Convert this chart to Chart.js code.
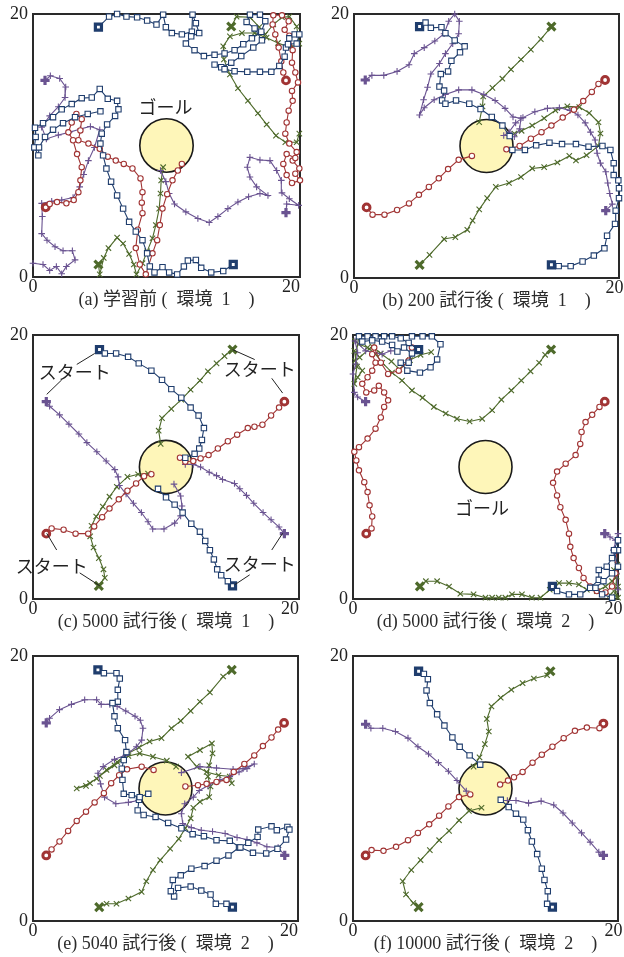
<!DOCTYPE html>
<html><head><meta charset="utf-8">
<script src="https://cdn.jsdelivr.net/npm/chart.js@4.4.1/dist/chart.umd.min.js"></script>
<style>
html,body{margin:0;padding:0;background:#fff;}
body{width:624px;height:957px;position:relative;overflow:hidden;}
.pan{position:absolute;}
</style></head>
<body>
<script>
// ---------- axis ticks, goal, captions ----------
const AXIS_TICKS = [0, 20];
const GOAL_CENTER = [10, 10];
const GOAL_RADIUS = 2;
const CAPTIONS = [
  "(a) 学習前 (  環境  1\u3000)",
  "(b) 200 試行後 (  環境  1\u3000)",
  "(c) 5000 試行後 (  環境  1\u3000)",
  "(d) 5000 試行後 (  環境  2\u3000)",
  "(e) 5040 試行後 (  環境  2\u3000)",
  "(f) 10000 試行後 (  環境  2\u3000)"
];

// ---------- (a) 学習前 ----------
const a_blue_1 = [[4.9,19.0],[5.7,19.8],[6.3,20.0],[7.0,19.8],[7.8,19.75],[8.55,19.5],[9.25,19.2],[9.75,19.95],[9.95,19.0],[10.4,18.55],[11.15,18.45],[11.9,18.65],[11.95,19.95],[12.2,19.3],[12.45,18.55],[11.85,18.3],[11.45,17.75],[12.1,17.25],[12.8,16.8],[13.6,16.9],[14.35,17.0],[15.1,17.25],[15.75,17.7],[16.4,18.15],[17.1,18.65],[17.4,19.45],[17.0,19.95],[16.25,19.95],[16.0,19.4],[16.6,18.9],[17.15,18.0],[16.5,17.45],[15.6,16.8],[14.85,16.3],[14.1,15.95],[13.6,16.15],[14.35,15.8],[15.1,15.65],[16.05,15.6],[17.0,15.6],[17.85,15.6],[18.45,16.05],[18.85,16.75],[18.95,17.45],[19.2,18.15],[19.6,18.45],[19.95,18.45],[19.75,17.75],[19.1,17.7]];
const a_blue_2 = [[15.0,0.95],[14.25,0.45],[13.35,0.35],[12.6,0.7],[12.2,1.3],[11.6,1.25],[11.3,0.8],[10.8,0.2],[10.2,0.35],[9.7,0.75],[9.1,0.35],[8.75,0.8],[8.55,1.8],[8.2,2.8],[7.7,3.45],[7.2,4.2],[6.75,5.2],[6.3,6.2],[5.85,7.25],[5.5,8.25],[5.25,9.25],[5.05,10.15],[5.15,10.9],[5.55,11.6],[6.15,12.25],[6.4,12.75],[6.3,13.4],[5.6,13.55],[5.0,14.3],[4.4,13.65],[3.65,13.6],[2.9,13.15],[2.15,12.75],[1.5,12.15],[0.75,11.7],[0.15,11.35],[0.2,10.65],[0.1,9.85],[0.4,9.25],[0.45,9.85],[0.9,10.65],[1.5,11.2],[2.25,11.7],[3.15,12.15],[4.1,12.4],[5.05,12.6]];
const a_red_1 = [[18.95,14.95],[18.75,15.55],[18.6,16.4],[18.4,17.45],[18.15,18.45],[17.95,19.2],[18.0,19.9],[18.65,19.9],[19.15,19.45],[18.85,18.8],[19.2,18.35],[19.45,17.25],[19.4,16.3],[19.65,15.55],[19.85,14.8],[19.4,14.15],[19.45,13.4],[19.15,12.65],[19.0,11.75],[18.9,10.9],[19.2,10.15],[19.75,9.5],[19.45,8.85],[19.95,8.25],[19.65,7.85],[20.0,7.35],[19.4,7.15],[19.0,7.75],[18.75,8.6],[19.0,9.35],[19.65,9.05]];
const a_red_2 = [[0.95,5.3],[1.25,5.55],[1.8,5.7],[2.5,5.6],[3.05,5.85],[3.4,6.45],[3.55,7.35],[3.65,8.35],[3.3,9.35],[3.0,10.4],[2.65,11.0],[2.9,11.75],[3.25,12.4],[3.65,12.0],[3.55,11.15],[3.4,10.4],[4.15,10.15],[5.0,9.75],[5.6,9.15],[6.2,8.85],[6.8,8.6],[7.45,8.25],[8.05,7.5],[8.2,6.45],[8.15,5.65],[8.2,4.85],[7.85,3.6],[7.7,2.2],[8.0,0.95],[8.45,0.2],[8.95,1.8],[9.3,2.8],[9.5,3.95],[9.7,5.2],[10.05,6.3],[10.45,7.35],[10.85,8.1],[11.15,8.6]];
const a_purple_1 = [[0.9,14.95],[1.3,15.3],[2.0,15.1],[2.45,14.45],[2.4,13.65],[1.9,12.95],[1.25,12.25],[0.65,11.4],[1.0,10.5],[1.9,10.8],[2.7,11.0],[3.55,11.25],[4.3,11.45],[5.0,11.2],[4.6,9.85],[4.15,8.85],[3.8,7.8],[3.5,6.85],[3.0,6.05],[2.15,5.85],[1.4,5.75],[0.65,5.6],[0.7,4.6],[0.65,3.3],[1.05,2.8],[1.65,2.3],[2.25,2.0],[2.95,2.0],[3.15,1.3],[2.5,0.8],[2.15,0.25],[1.75,0.8],[1.25,0.5],[0.75,0.95],[0.0,1.05]];
const a_purple_2 = [[18.95,4.9],[19.0,5.55],[19.9,5.45],[19.2,5.95],[18.65,6.4],[18.6,7.35],[18.25,8.1],[17.75,8.85],[17.0,8.9],[16.25,9.1],[16.05,8.35],[16.25,7.6],[16.75,6.85],[17.6,6.2],[17.0,6.35],[16.15,6.1],[15.35,5.7],[14.6,5.2],[13.85,4.6],[13.2,4.15],[12.35,4.45],[11.45,4.95],[10.6,5.55],[10.2,6.35],[9.95,7.25],[9.55,8.1]];
const a_green_1 = [[14.85,19.05],[15.25,19.8],[16.25,19.75],[16.95,19.0],[17.4,18.45],[18.0,19.2],[18.65,19.75],[19.2,19.8],[19.75,19.05],[19.95,17.75],[19.25,17.45],[18.35,17.8],[17.5,18.2],[16.6,18.55],[15.65,18.55],[14.75,18.3],[14.25,17.55],[14.3,16.55],[14.75,15.4],[15.35,14.35],[16.1,13.4],[16.85,12.45],[17.5,11.6],[18.2,10.75],[18.9,10.25],[19.75,10.25],[19.95,10.9]];
const a_green_2 = [[4.9,0.95],[5.0,0.2],[5.3,1.45],[5.65,2.2],[6.3,3.0],[6.75,2.55],[7.2,1.75],[7.55,0.95],[7.75,0.2],[8.2,1.05],[8.55,1.95],[8.95,2.95],[9.2,3.95],[9.45,5.2],[9.55,6.35],[9.6,7.35],[9.75,8.35]];

// ---------- (b) 200 試行後 ----------
const b_blue_1 = [[4.95,19.05],[5.4,19.35],[5.8,18.95],[6.6,19.0],[6.9,18.55],[7.6,18.0],[8.35,17.55],[8.0,17.1],[7.35,16.45],[7.1,15.65],[6.55,15.45],[6.45,14.5],[6.8,14.2],[6.65,13.45],[6.9,13.2],[7.7,13.45],[8.7,13.2],[9.55,12.8],[10.4,12.2],[11.2,11.55],[11.75,10.75]];
const b_blue_2 = [[14.9,1.0],[15.45,0.9],[16.35,0.9],[17.25,1.25],[18.1,1.7],[18.9,2.25],[19.1,3.2],[19.7,4.1],[19.75,5.1],[20.0,6.05],[20.0,6.8],[19.95,7.4],[19.6,7.8],[19.6,8.7],[19.35,9.7],[18.75,10.0],[17.7,9.95],[16.75,10.15],[15.7,10.15],[14.75,10.25],[13.75,10.05],[12.9,9.7],[11.95,9.7]];
const b_red_1 = [[18.95,15.0],[18.45,14.7],[17.95,14.1],[17.3,13.4],[16.6,12.75],[15.75,12.15],[14.9,11.55],[14.15,11.05],[13.35,10.55],[12.5,10.0],[11.5,9.75]];
const b_red_2 = [[0.95,5.35],[1.4,4.8],[2.3,4.8],[3.25,5.15],[4.15,5.65],[4.9,6.3],[5.65,6.9],[6.4,7.55],[7.1,8.25],[7.9,8.95],[8.9,9.25]];
const b_purple_1 = [[0.85,15.0],[1.35,15.35],[2.25,15.35],[3.25,15.65],[4.15,16.15],[4.55,17.0],[5.3,17.45],[6.1,17.95],[6.8,18.5],[7.15,19.45],[7.6,20.0],[7.95,19.45],[7.9,18.5],[7.45,17.75],[6.9,17.0],[6.45,16.25],[5.8,15.45],[5.55,14.45],[5.25,13.5],[4.95,12.35],[5.3,12.9],[6.05,13.5],[6.9,13.9],[7.9,14.25],[8.9,14.25],[9.8,13.9],[10.65,13.45],[11.4,12.85],[12.0,12.2],[12.6,12.1],[12.5,11.3],[12.1,10.7]];
const b_purple_2 = [[19.0,5.1],[19.5,5.6],[19.3,6.4],[19.15,7.2],[19.0,8.05],[18.6,8.7],[18.35,9.45],[18.2,10.45],[17.85,11.05],[17.45,11.75],[16.9,12.35],[16.3,12.7],[15.5,12.9],[14.6,12.85],[13.65,12.6],[12.75,12.15],[12.2,11.75],[11.7,11.05],[11.3,10.8]];
const b_green_1 = [[14.9,19.05],[14.1,18.1],[13.35,17.3],[12.6,16.55],[11.85,15.8],[11.2,15.1],[10.45,14.4],[9.75,13.75],[9.7,13.0],[9.45,11.8]];
const b_green_2 = [[4.95,1.0],[5.7,1.75],[6.8,2.95],[7.65,3.1],[8.55,3.65],[8.95,4.35],[9.45,5.2],[10.05,6.05],[10.7,6.9],[11.7,7.2],[12.6,7.65],[13.45,8.3],[14.35,8.4],[15.35,8.75],[16.25,9.25],[16.75,8.9],[17.55,9.3],[18.45,10.0],[18.6,10.95],[18.45,11.8],[17.75,12.5],[17.0,12.95],[16.1,13.0],[15.2,12.7],[14.35,12.1],[13.45,11.55],[12.65,11.15],[12.1,10.95]];

// ---------- (c) 5000 試行後 環境1 ----------
const c_blue_1 = [[5.0,18.9],[5.4,18.6],[6.25,18.6],[7.15,18.35],[7.95,17.85],[8.9,17.3],[9.7,16.6],[10.4,15.9],[11.15,15.25],[11.85,14.5],[12.45,13.9],[12.85,12.95],[12.7,12.05],[12.5,11.4],[12.15,11.0],[11.45,10.7]];
const c_blue_2 = [[15.0,1.0],[14.65,1.35],[14.15,1.8],[13.85,2.25],[13.6,3.0],[13.3,3.7],[12.95,4.4],[12.55,5.1],[11.9,5.7],[11.25,6.55],[10.65,7.15],[10.0,7.7],[9.4,8.35]];
const c_red_1 = [[18.9,14.95],[18.5,14.5],[17.9,13.9],[17.25,13.2],[16.65,13.05],[16.15,12.95],[15.35,12.45],[14.65,11.95],[13.9,11.4],[13.2,10.9],[12.6,10.65],[12.05,10.45],[11.45,10.4],[11.05,10.7]];
const c_red_2 = [[1.0,4.95],[1.4,5.35],[2.3,5.25],[3.2,4.95],[4.15,4.95],[4.6,5.5],[5.2,6.2],[5.75,6.85],[6.45,7.55],[7.1,8.2],[7.75,8.75],[8.35,9.3],[8.9,9.45]];
const c_purple_1 = [[1.0,14.95],[1.25,14.6],[2.0,13.95],[2.7,13.25],[3.45,12.5],[4.05,11.85],[4.8,11.15],[5.5,10.45],[6.15,9.8],[6.4,9.25],[6.5,8.6],[7.0,7.95],[7.55,7.25],[8.15,6.55],[8.65,5.85],[9.0,5.3],[9.85,5.3],[10.65,5.75],[11.1,6.3],[11.2,7.05],[11.1,7.8],[10.6,8.7]];
const c_purple_2 = [[18.9,4.95],[18.5,5.45],[17.9,6.0],[17.3,6.55],[16.6,7.25],[16.05,7.85],[15.55,8.35],[15.15,8.75],[14.25,9.05],[13.8,9.35],[13.25,9.6],[12.6,10.0],[12.05,10.2],[11.45,10.2]];
const c_green_1 = [[15.0,18.9],[14.4,18.4],[13.8,17.85],[13.15,17.25],[12.55,16.55],[11.85,15.85],[11.15,15.1],[10.4,14.4],[9.7,13.7],[9.45,12.75],[9.6,11.75]];
const c_green_2 = [[4.95,1.0],[5.4,1.6],[5.3,2.25],[4.95,3.1],[4.55,3.9],[4.3,4.75],[4.4,5.55],[4.75,6.25],[5.25,7.0],[5.75,7.75],[6.3,8.5],[7.1,9.25],[7.9,9.45],[8.65,9.5]];

// ---------- (d) 5000 試行後 環境2 ----------
const d_blue_1 = [[4.95,18.9],[4.2,19.4],[3.6,19.75],[2.95,19.9],[2.35,19.9],[1.7,19.9],[1.1,19.9],[0.45,19.9],[0.7,19.5],[1.45,19.6],[2.2,19.5],[2.95,19.25],[3.35,18.75],[3.85,19.05],[4.45,18.6],[4.2,17.9],[3.6,17.9],[4.1,17.3],[5.05,17.15],[5.85,17.55],[6.35,18.15],[6.6,19.3],[5.95,19.9],[5.25,19.9],[4.45,19.9]];
const d_blue_2 = [[15.05,0.95],[15.4,0.6],[16.3,0.35],[17.15,0.35],[17.9,0.85],[18.55,1.45],[18.55,2.2],[19.15,2.45],[19.55,3.1],[20.0,3.7],[20.0,4.45],[19.7,3.7],[20.0,2.45],[19.55,1.95],[18.9,1.35],[18.3,0.85],[18.8,0.35],[19.55,0.1]];
const d_red_1 = [[19.0,14.95],[18.6,14.55],[18.05,13.95],[17.55,13.4],[17.25,12.65],[17.15,11.75],[16.8,10.9],[16.05,10.25],[15.4,9.65],[15.1,8.8],[15.4,7.85],[15.65,6.95],[16.05,6.0],[16.3,4.95],[16.4,3.95],[16.65,3.1],[17.05,2.35],[17.4,1.6],[17.9,0.95],[18.4,0.6],[19.05,0.5],[19.55,0.95],[19.8,1.95],[19.9,3.7]];
const d_red_2 = [[1.0,4.95],[1.4,5.35],[1.45,6.25],[1.25,7.1],[1.1,8.1],[0.85,8.85],[0.45,9.75],[0.25,10.5],[0.1,11.15],[0.45,11.5],[1.1,12.15],[1.7,12.9],[2.1,13.75],[2.35,14.55],[2.65,15.05],[2.35,15.65],[1.95,16.15],[1.6,15.8],[1.0,15.65],[0.7,16.3],[1.1,16.8],[1.45,17.3],[1.7,17.9],[1.45,18.55],[1.6,19.05],[2.1,17.9],[2.65,17.05],[3.45,17.3],[4.2,18.05],[4.45,19.05]];
const d_purple_1 = [[0.95,14.95],[0.35,15.3],[0.1,15.65],[0.0,17.05],[0.2,17.8],[0.35,18.65],[0.15,19.55],[0.95,18.8],[2.2,18.55],[2.85,18.8]];
const d_purple_2 = [[19.0,4.95],[19.4,4.7],[19.8,4.45],[20.0,4.95],[19.65,3.7],[19.9,1.95],[20.0,0.7]];
const d_green_1 = [[14.95,18.9],[14.5,18.5],[14.05,17.9],[13.4,17.25],[12.7,16.55],[11.95,15.8],[11.2,15.1],[10.5,14.3],[9.75,13.65],[8.8,13.45],[7.85,13.65],[7.0,14.05],[6.1,14.55],[5.25,15.25],[4.45,15.8],[3.7,16.55],[2.95,17.15],[2.2,17.9],[1.7,18.55],[1.1,19.05],[0.45,19.3],[0.15,19.55],[0.45,19.9],[0.15,18.05],[0.7,17.3],[0.35,16.8],[0.1,16.3],[0.3,17.6],[0.1,18.8],[0.5,18.3],[1.45,19.15],[2.1,18.6],[2.9,18.0],[3.5,17.4],[4.3,18.1],[5.1,18.5],[5.9,18.7]];
const d_green_2 = [[5.05,0.95],[5.5,1.35],[6.35,1.35],[7.25,0.95],[8.1,0.4],[9.1,0.35],[10.0,0.1],[10.5,0.1],[11.0,0.1],[11.5,0.1],[12.0,0.35],[12.75,0.35],[13.5,0.1],[14.15,0.1],[14.85,0.7],[15.55,1.2],[16.3,1.2],[17.05,1.1],[17.65,0.7],[18.4,0.6],[19.05,0.95],[19.55,1.35],[19.9,1.7],[19.8,0.45],[20.0,0.1],[19.4,0.3],[20.0,0.95],[19.7,2.2],[19.95,2.6]];

// ---------- (e) 5040 試行後 ----------
const e_blue_1 = [[4.9,18.95],[5.35,18.7],[6.3,18.7],[6.55,18.3],[6.4,17.45],[6.4,16.55],[6.0,16.45],[6.15,15.45],[6.4,14.55],[6.95,13.65],[7.05,12.75],[6.85,12.15],[6.7,11.5],[6.75,10.65],[6.85,9.6],[7.45,9.5],[8.05,9.35],[8.7,9.6]];
const e_blue_2 = [[15.05,1.05],[14.6,1.3],[13.8,1.3],[13.4,2.0],[12.7,2.3],[11.9,2.6],[10.95,2.5],[10.65,1.85],[10.4,2.25],[10.55,3.1],[11.15,3.45],[11.95,3.95],[12.95,4.15],[13.85,4.55],[14.75,4.95],[15.55,5.55],[16.25,5.9],[16.95,6.35],[17.0,6.9],[18.0,7.15],[18.4,6.85],[19.2,7.1],[19.35,6.9],[19.1,6.15],[18.45,5.45],[17.6,5.1],[16.6,5.15],[15.65,5.55],[14.85,6.05],[13.85,6.1],[12.9,6.4],[12.05,6.55],[11.2,7.0],[10.2,7.4],[9.25,7.85],[8.35,8.0],[7.9,8.35],[8.0,9.15]];
const e_red_1 = [[18.95,14.95],[18.5,14.45],[18.0,13.85],[17.35,13.2],[16.7,12.5],[15.95,11.85],[15.15,11.25],[14.6,10.65],[13.85,10.5],[13.1,10.35],[12.45,10.25],[11.5,10.15]];
const e_red_2 = [[1.0,4.95],[1.4,5.4],[2.0,6.0],[2.65,6.8],[3.3,7.55],[4.0,8.25],[4.65,8.95],[5.35,9.65],[5.9,10.4],[6.5,11.0],[7.1,11.45],[8.2,11.65],[9.1,11.4]];
const e_purple_1 = [[1.0,14.95],[1.25,15.3],[2.0,15.95],[2.9,16.35],[3.9,16.7],[4.8,16.7],[5.15,16.35],[5.8,16.35],[6.35,16.2],[7.0,15.85],[7.7,15.45],[8.1,15.15],[8.3,14.55],[8.2,13.65],[7.8,13.15],[7.0,12.5],[6.15,12.2],[5.3,11.65],[4.9,11.15],[5.1,10.35],[5.4,9.35],[6.25,8.85],[7.2,8.95],[7.95,9.1]];
const e_purple_2 = [[19.0,4.95],[18.5,5.55],[17.65,5.6],[16.9,5.9],[16.15,6.15],[15.4,6.3],[14.5,6.6],[13.55,6.75],[12.7,6.85],[11.95,7.05],[11.3,7.35],[11.2,8.1],[11.45,8.85],[12.1,9.35],[12.55,9.85],[13.2,10.2],[14.1,10.65],[14.85,10.9],[15.55,11.25],[16.15,11.5],[16.7,11.85],[15.85,11.5],[15.1,11.45],[13.85,11.55],[12.6,11.65],[11.2,11.2]];
const e_green_1 = [[15.0,18.95],[14.35,18.45],[13.35,17.25],[12.6,16.55],[11.9,15.85],[11.15,15.1],[10.45,14.55],[9.7,13.8],[8.8,13.55],[8.0,13.1],[7.2,12.65],[6.35,12.0],[5.55,11.4],[4.8,10.75],[4.0,10.2],[3.3,10.0],[4.3,10.4],[5.05,10.95],[6.15,11.75],[7.2,12.45],[8.05,12.65],[9.05,12.4],[10.1,12.1],[10.8,11.65]];
const e_green_2 = [[5.0,1.05],[5.55,1.3],[6.3,1.3],[7.2,1.7],[8.2,2.2],[8.55,3.0],[9.05,3.85],[9.6,4.6],[10.35,5.45],[11.0,6.2],[11.5,7.0],[11.9,7.75],[12.1,8.55],[12.6,9.0],[13.3,9.35],[13.4,10.15],[13.2,10.9],[13.3,11.75],[13.55,12.65],[13.5,13.4],[12.6,12.9],[11.7,12.4],[12.35,11.65],[13.1,11.25],[14.0,11.0],[14.85,10.9],[15.0,10.4]];

// ---------- (f) 10000 試行後 ----------
const f_blue_1 = [[4.95,18.85],[5.35,18.65],[5.65,18.25],[5.55,17.4],[5.8,16.45],[6.35,15.6],[6.9,14.75],[7.5,13.85],[8.05,13.15],[8.8,12.5],[9.6,11.8]];
const f_blue_2 = [[15.05,1.05],[14.65,1.3],[14.7,2.25],[14.45,3.1],[14.25,3.95],[13.9,5.05],[13.5,6.0],[13.2,6.85],[12.85,7.65],[12.3,8.1],[11.75,8.6],[11.15,9.15]];
const f_red_1 = [[18.9,14.9],[18.6,14.55],[17.65,14.6],[16.75,14.35],[15.9,13.8],[15.05,13.15],[14.25,12.55],[13.55,11.95],[12.8,11.25],[12.15,10.85],[11.7,10.6],[11.1,10.3]];
const f_red_2 = [[0.95,4.95],[1.4,5.35],[2.3,5.3],[3.25,5.6],[4.15,6.1],[4.9,6.65],[5.75,7.3],[6.5,7.95],[7.2,8.65],[8.0,9.35],[8.85,9.55]];
const f_purple_1 = [[0.95,14.85],[1.35,14.55],[2.25,14.55],[3.2,14.3],[4.15,13.8],[4.9,13.15],[5.7,12.6],[6.45,11.95],[7.2,11.3],[7.85,10.6],[8.55,9.8]];
const f_purple_2 = [[18.9,4.95],[18.55,5.2],[17.9,5.95],[17.25,6.65],[16.55,7.4],[15.85,8.15],[15.15,8.75],[14.2,9.05],[13.25,8.9],[12.3,9.1],[11.65,9.1]];
const f_green_1 = [[14.9,18.85],[14.65,18.55],[13.65,18.3],[12.8,17.95],[11.95,17.45],[11.15,16.85],[10.45,16.2],[10.1,15.25],[10.25,14.3],[9.95,13.35],[9.55,12.35],[9.1,11.65]];
const f_green_2 = [[4.95,1.05],[4.55,1.35],[4.0,2.0],[3.75,3.0],[4.4,3.85],[5.1,4.6],[5.8,5.35],[6.5,6.1],[7.25,6.8],[8.0,7.6],[8.75,8.3],[9.7,8.55]];

// ---------- styling ----------
const SERIF = "'Liberation Serif','Noto Sans CJK JP',serif";
const SANS_JP = "'Noto Sans CJK JP','Noto Sans',sans-serif";
const STY = {
  blue:   {c:'#1f3d6d', ps:'rect',     r:3.8, sr:4.3, sw:3.2},
  red:    {c:'#a13434', ps:'circle',   r:2.7, sr:3.4, sw:3.0},
  purple: {c:'#6a5391', ps:'cross',    r:3.3, sr:4.6, sw:3.2},
  green:  {c:'#4e6a2b', ps:'crossRot', r:3.8, sr:5.6, sw:3.2}
};

function makeDs(pts, key) {
  const s = STY[key];
  return {
    data: pts.map(p => ({x:p[0], y:p[1]})),
    showLine: true, tension: 0,
    borderColor: s.c, borderWidth: 1.1,
    pointStyle: s.ps,
    pointRadius: ctx => ctx.dataIndex === 0 ? s.sr : s.r,
    pointBorderWidth: ctx => ctx.dataIndex === 0 ? s.sw : 1.1,
    pointBackgroundColor: '#ffffff',
    pointBorderColor: s.c,
    clip: false
  };
}

const PANELS = [
  {box:[33,13,300,277], xpad:'    ', cap:CAPTIONS[0],
   series:{blue:[a_blue_1,a_blue_2], red:[a_red_1,a_red_2], purple:[a_purple_1,a_purple_2], green:[a_green_1,a_green_2]},
   texts:[{t:'ゴール', x:9.92, y:12.9}], lines:[]},
  {box:[354,13,619,278], xpad:'  ', cap:CAPTIONS[1],
   series:{blue:[b_blue_1,b_blue_2], red:[b_red_1,b_red_2], purple:[b_purple_1,b_purple_2], green:[b_green_1,b_green_2]},
   texts:[], lines:[]},
  {box:[33,334,299,599], xpad:'    ', cap:CAPTIONS[2],
   series:{blue:[c_blue_1,c_blue_2], red:[c_red_1,c_red_2], purple:[c_purple_1,c_purple_2], green:[c_green_1,c_green_2]},
   texts:[{t:'スタート', x:3.14, y:17.16},{t:'スタート', x:17.04, y:17.39},{t:'スタート', x:1.41, y:2.5},{t:'スタート', x:17.04, y:2.65}],
   lines:[[4.64,18.6,3.29,17.77],[2.16,16.6,1.03,15.5],[15.01,18.89,16.67,18.14],[17.95,16.72,18.77,15.6],
          [1.03,4.98,1.78,3.71],[3.51,1.98,5.02,1.0],[18.77,4.98,17.95,3.71],[16.29,1.83,15.17,1.08]]},
  {box:[353,334,618,599], xpad:'  ', cap:CAPTIONS[3],
   series:{blue:[d_blue_1,d_blue_2], red:[d_red_1,d_red_2], purple:[d_purple_1,d_purple_2], green:[d_green_1,d_green_2]},
   texts:[{t:'ゴール', x:9.74, y:6.87}], lines:[]},
  {box:[33,655,298,921], xpad:'    ', cap:CAPTIONS[4],
   series:{blue:[e_blue_1,e_blue_2], red:[e_red_1,e_red_2], purple:[e_purple_1,e_purple_2], green:[e_green_1,e_green_2]},
   texts:[], lines:[]},
  {box:[353,655,618,921], xpad:'  ', cap:CAPTIONS[5],
   series:{blue:[f_blue_1,f_blue_2], red:[f_red_1,f_red_2], purple:[f_purple_1,f_purple_2], green:[f_green_1,f_green_2]},
   texts:[], lines:[]}
];

const framePlugin = {
  id: 'frameGoal',
  beforeDatasetsDraw(chart) {
    const {ctx, chartArea:a, scales:{x, y}} = chart;
    ctx.save();
    const cx = x.getPixelForValue(GOAL_CENTER[0]), cy = y.getPixelForValue(GOAL_CENTER[1]);
    const r = Math.abs(x.getPixelForValue(GOAL_CENTER[0] + GOAL_RADIUS) - cx);
    ctx.beginPath(); ctx.arc(cx, cy, r, 0, Math.PI*2);
    ctx.fillStyle = '#fef6b9'; ctx.fill();
    ctx.lineWidth = 1.6; ctx.strokeStyle = '#1a1a1a'; ctx.stroke();
    ctx.lineWidth = 2; ctx.strokeStyle = '#2a2a2a';
    ctx.strokeRect(a.left, a.top, a.right - a.left, a.bottom - a.top);
    ctx.restore();
  },
  afterDatasetsDraw(chart, args, opts) {
    const {ctx, scales:{x, y}} = chart;
    const p = opts.panel;
    ctx.save();
    ctx.strokeStyle = '#222'; ctx.lineWidth = 1;
    p.lines.forEach(l => {
      ctx.beginPath();
      ctx.moveTo(x.getPixelForValue(l[0]), y.getPixelForValue(l[1]));
      ctx.lineTo(x.getPixelForValue(l[2]), y.getPixelForValue(l[3]));
      ctx.stroke();
    });
    ctx.fillStyle = '#222';
    ctx.font = "18px " + SANS_JP;
    ctx.textAlign = 'center'; ctx.textBaseline = 'middle';
    p.texts.forEach(t => ctx.fillText(t.t, x.getPixelForValue(t.x), y.getPixelForValue(t.y)));
    ctx.restore();
  }
};

const YW = 33, PT = 13, PR = 20, XH = 21, TLH = 4, PB = 16;
PANELS.forEach(p => {
  const W = p.box[2] - p.box[0], H = p.box[3] - p.box[1];
  const div = document.createElement('div');
  div.className = 'pan';
  div.style.left = (p.box[0] - YW) + 'px';
  div.style.top = (p.box[1] - PT) + 'px';
  const cv = document.createElement('canvas');
  const cw = YW + W + PR, ch = PT + H + XH + TLH + PB;
  cv.width = cw; cv.height = ch;
  cv.style.width = cw + 'px'; cv.style.height = ch + 'px';
  div.appendChild(cv);
  document.body.appendChild(div);

  const datasets = [];
  ['blue','red','purple','green'].forEach(k => p.series[k].forEach(s => datasets.push(makeDs(s, k))));

  const tickFont = {family: SERIF, size: 18, lineHeight: 1};
  new Chart(cv, {
    type: 'scatter',
    data: {datasets},
    options: {
      responsive: false, animation: false, events: [],
      devicePixelRatio: 1,
      layout: {padding: {top: PT, right: PR, left: 0, bottom: PB}},
      scales: {
        x: {type:'linear', min:0, max:20,
            afterFit: s => { s.height = XH; },
            afterBuildTicks: s => { s.ticks = AXIS_TICKS.map(v => ({value:v})); },
            grid: {display:false, drawTicks:false, tickLength:0}, border: {display:false},
            ticks: {autoSkip:false, maxRotation:0, minRotation:0, padding:1, font:tickFont, color:'#222',
                    callback: v => v === 20 ? '20' + p.xpad : String(v)}},
        y: {type:'linear', min:0, max:20,
            afterFit: s => { s.width = YW; },
            afterBuildTicks: s => { s.ticks = AXIS_TICKS.map(v => ({value:v})); },
            grid: {display:false, drawTicks:false, tickLength:0}, border: {display:false},
            ticks: {autoSkip:false, padding:5, font:tickFont, color:'#222',
                    callback: v => String(v)}}
      },
      plugins: {
        legend: {display:false}, tooltip: {enabled:false},
        title: {display:true, text:p.cap, position:'bottom', fullSize:false, padding:0,
                color:'#2b2b2b', font:{family:SERIF, size:18, weight:'normal', lineHeight:TLH/18}},
        frameGoal: {panel: p}
      }
    },
    plugins: [framePlugin]
  });
});
</script>
</body></html>
